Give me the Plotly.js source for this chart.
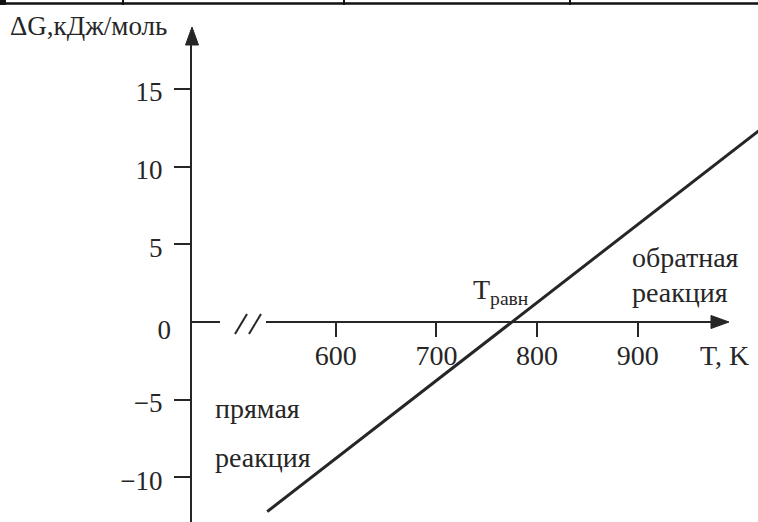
<!DOCTYPE html>
<html>
<head>
<meta charset="utf-8">
<script src="https://cdn.plot.ly/plotly-3.0.1.min.js"></script>
<style>
  html, body { margin: 0; padding: 0; background: #fff; }
  #chart { width: 758px; height: 522px; }
</style>
</head>
<body>
<div id="chart"></div>
<script>
// ---- data ----
const temperatureK = [532, 1020];          // T, K (line end points)
const deltaG = [-12.2, 12.3];              // ΔG, кДж/моль
const xTickVals = [600, 700, 800, 900];
const xTickText = ['600', '700', '800', '900'];
const yTickVals = [-10, -5, 5, 10, 15];
const yTickText = ['\u221210', '\u22125', '5', '10', '15'];
const yZeroTick = [0];
const yZeroText = ['0'];

// ---- geometry (pixels of the 758x522 picture) ----
const L = 192, R = 758, TOP = 44, BOT = 522;
const W = R - L, H = BOT - TOP;
const xr = [457.3, 1019.4];
const yr = [-12.87, 17.89];
const px2x = px => xr[0] + (px - L) / W * (xr[1] - xr[0]);
const py2y = py => yr[0] + (BOT - py) / H * (yr[1] - yr[0]);
const ppx = px => (px - L) / W;
const ppy = py => (BOT - py) / H;

const ink = '#262626';
const serif = 'Liberation Serif, DejaVu Serif, serif';

const traces = [
  {
    x: temperatureK, y: deltaG, type: 'scatter', mode: 'lines',
    line: { color: ink, width: 3 }, hoverinfo: 'skip'
  },
  {
    x: temperatureK, y: deltaG, type: 'scatter', mode: 'lines',
    yaxis: 'y2', opacity: 0, line: { width: 0 }, hoverinfo: 'skip'
  }
];

const shapes = [
  // x axis (broken) with arrow
  { type: 'line', xref: 'x', yref: 'y', x0: px2x(191), x1: px2x(220), y0: 0, y1: 0,
    line: { color: ink, width: 2 } },
  { type: 'line', xref: 'x', yref: 'y', x0: px2x(266), x1: px2x(716), y0: 0, y1: 0,
    line: { color: ink, width: 2 } },
  { type: 'path', xref: 'x', yref: 'y',
    path: `M ${px2x(711)},${py2y(315.5)} L ${px2x(729)},0 L ${px2x(711)},${py2y(328.5)} Z`,
    fillcolor: ink, line: { color: ink, width: 1 } },
  // break marks //
  { type: 'line', xref: 'x', yref: 'y', x0: px2x(235), y0: py2y(334), x1: px2x(247), y1: py2y(314),
    line: { color: ink, width: 2 } },
  { type: 'line', xref: 'x', yref: 'y', x0: px2x(249), y0: py2y(334), x1: px2x(261), y1: py2y(314),
    line: { color: ink, width: 2 } },
  // y axis arrow head
  { type: 'path', xref: 'paper', yref: 'paper',
    path: `M ${ppx(185.5)},${ppy(45)} L ${ppx(192)},${ppy(27)} L ${ppx(198.5)},${ppy(45)} Z`,
    fillcolor: ink, line: { color: ink, width: 1 } },
  // page frame at the top (table rule of the scan)
  { type: 'line', xref: 'paper', yref: 'paper', x0: ppx(0), x1: ppx(758), y0: ppy(3.5), y1: ppy(3.5),
    line: { color: '#111', width: 2.5 } },
  { type: 'line', xref: 'paper', yref: 'paper', x0: ppx(123), x1: ppx(123), y0: ppy(0), y1: ppy(5),
    line: { color: '#111', width: 2 } },
  { type: 'line', xref: 'paper', yref: 'paper', x0: ppx(344), x1: ppx(344), y0: ppy(0), y1: ppy(5),
    line: { color: '#111', width: 2 } },
  { type: 'line', xref: 'paper', yref: 'paper', x0: ppx(570), x1: ppx(570), y0: ppy(0), y1: ppy(5),
    line: { color: '#111', width: 2 } },
  { type: 'rect', xref: 'paper', yref: 'paper', x0: ppx(0), x1: ppx(6), y0: ppy(0), y1: ppy(5),
    fillcolor: '#111', line: { width: 0 } }
];

const ann = (text, px, py, size) => ({
  text, xref: 'paper', yref: 'paper', x: ppx(px), y: ppy(py),
  xanchor: 'left', yanchor: 'middle', showarrow: false,
  font: { family: serif, size: size || 28, color: ink }
});

const annotations = [
  ann('\u0394G,\u043a\u0414\u0436/\u043c\u043e\u043b\u044c', 8, 26, 27),
  ann('T<sub>\u0440\u0430\u0432\u043d</sub>', 471, 291, 28),
  ann('\u043e\u0431\u0440\u0430\u0442\u043d\u0430\u044f', 630, 257, 28),
  ann('\u0440\u0435\u0430\u043a\u0446\u0438\u044f', 630, 292, 28),
  ann('\u043f\u0440\u044f\u043c\u0430\u044f', 213, 408, 28),
  ann('\u0440\u0435\u0430\u043a\u0446\u0438\u044f', 213, 457, 28),
  ann('T, K', 698, 355, 28)
];

const layout = {
  width: 758, height: 522,
  margin: { l: L, r: 758 - R, t: TOP, b: 522 - BOT, pad: 0 },
  paper_bgcolor: '#ffffff', plot_bgcolor: '#ffffff',
  showlegend: false,
  xaxis: {
    range: xr, autorange: false, anchor: 'free',
    position: (0 - yr[0]) / (yr[1] - yr[0]),
    tickmode: 'array', tickvals: xTickVals, ticktext: xTickText,
    ticks: 'outside', ticklen: 14, tickwidth: 2, tickcolor: ink,
    showline: false, showgrid: false, zeroline: false,
    tickfont: { family: serif, size: 28, color: ink },
    ticklabelstandoff: -6,
    fixedrange: true
  },
  yaxis: {
    range: yr, autorange: false,
    tickmode: 'array', tickvals: yTickVals, ticktext: yTickText,
    ticks: 'outside', ticklen: 16, tickwidth: 2, tickcolor: ink,
    showline: true, linewidth: 2, linecolor: ink,
    showgrid: false, zeroline: false,
    tickfont: { family: serif, size: 27, color: ink },
    ticklabelstandoff: 6, ticklabelshift: 3,
    fixedrange: true
  },
  yaxis2: {
    range: yr, autorange: false, overlaying: 'y', side: 'left', anchor: 'x',
    tickmode: 'array', tickvals: yZeroTick, ticktext: yZeroText,
    ticks: '', showline: false, showgrid: false, zeroline: false,
    tickfont: { family: serif, size: 27, color: ink },
    ticklabelstandoff: 20, ticklabelshift: 8,
    fixedrange: true
  },
  shapes, annotations
};

Plotly.newPlot('chart', traces, layout, { staticPlot: true, displayModeBar: false });
</script>
</body>
</html>
